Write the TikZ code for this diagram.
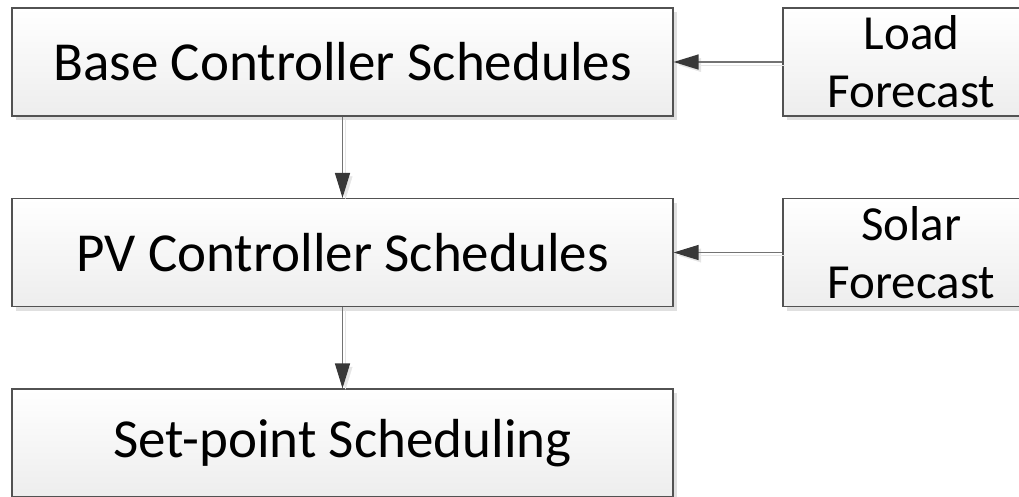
\documentclass[tikz,border=0pt]{standalone}
\usepackage{fontspec}
\setmainfont{Carlito}
\usetikzlibrary{arrows.meta, shadows}

\begin{document}
\begin{tikzpicture}[x = 1pt, y = -1pt,
  box/.style = {draw = black!68, line width = 1.2pt, top color = white, bottom color = black!7,
    drop shadow = {shadow xshift = 4pt, shadow yshift = -4pt, fill = black!12, opacity = 1},
    align = center, inner sep = 0pt},
  wide/.style = {box, minimum width = 661pt, minimum height = 108pt, font = \fontsize{55}{60}\selectfont},
  fcst/.style = {box, minimum width = 257pt, minimum height = 108pt, font = \fontsize{49}{58}\selectfont},
  flow/.style = {draw = black!55, line width = 1.4pt,
    -{Triangle[length = 25pt, width = 15pt, fill = black!78, color = black!78]},
    preaction = {draw = black!10, transform canvas = {shift = {(3pt, -3pt)}},
      -{Triangle[length = 25pt, width = 15pt, fill = black!10, color = black!10]}}}]
\useasboundingbox (0, 0) rectangle (1019, 496);
\node[wide](base) at (342.5, 62){Base Controller Schedules};
\node[wide](pv) at (342.5, 252.5){PV Controller Schedules};
\node[wide](setp) at (342.5, 443){Set-point Scheduling};
\node[fcst](load) at (911.5, 62){Load\\Forecast};
\node[fcst](solar) at (911.5, 252.5){Solar\\Forecast};
\draw[flow] (load) -- (base);
\draw[flow] (solar) -- (pv);
\draw[flow] (base) -- (pv);
\draw[flow] (pv) -- (setp);
\end{tikzpicture}
\end{document}
